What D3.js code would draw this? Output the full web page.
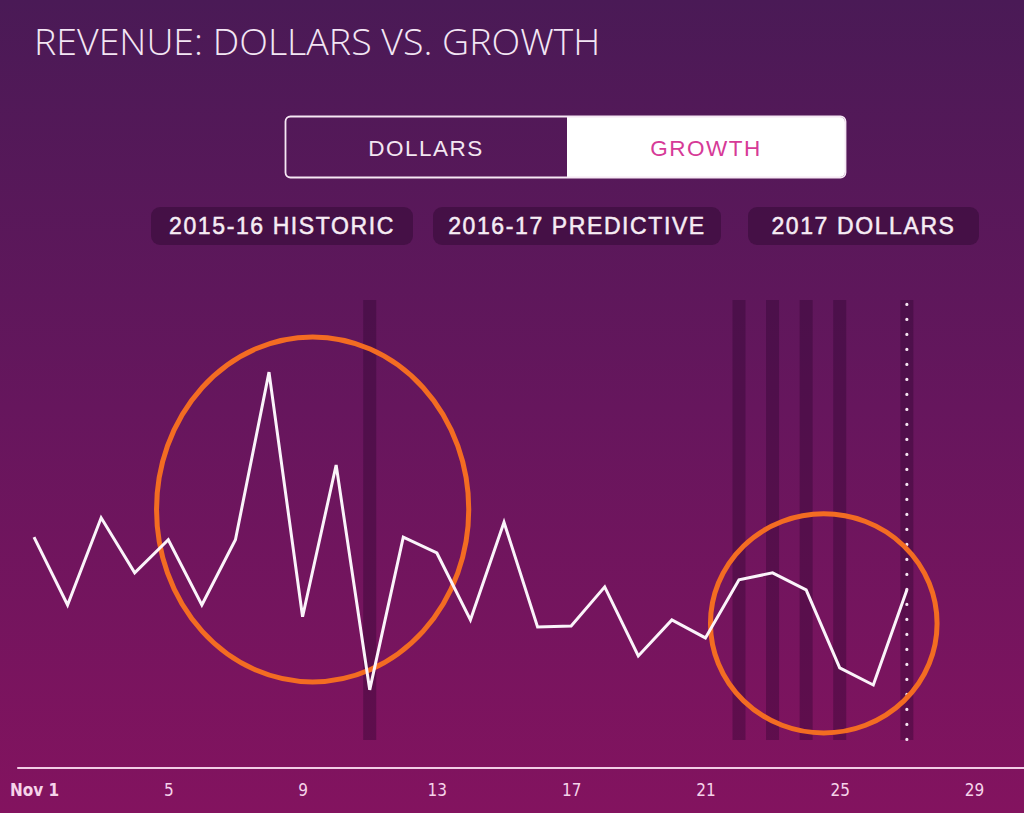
<!DOCTYPE html>
<html>
<head>
<meta charset="utf-8">
<script src="https://cdn.jsdelivr.net/npm/d3@7"></script>
<style>
  html, body { margin: 0; padding: 0; background: #4a1a56; }
  svg { display: block; }
</style>
</head>
<body>
<svg id="chart" width="1024" height="813"></svg>
<script>
// ---------- data ----------
const title = "REVENUE: DOLLARS VS. GROWTH";
const toggleLabels = ["DOLLARS", "GROWTH"];
const legendLabels = ["2015-16 HISTORIC", "2016-17 PREDICTIVE", "2017 DOLLARS"];
const days = [1,2,3,4,5,6,7,8,9,10,11,12,13,14,15,16,17,18,19,20,21,22,23,24,25,26,27];
const growth = [46.1,30.7,50.5,38.0,45.5,30.7,45.5,83.6,28.0,62.5,11.4,46.1,42.5,27.3,49.5,25.7,25.9,34.8,19.1,27.3,23.2,36.4,38.0,34.1,16.4,12.5,34.1];
const tickDays = [1,5,9,13,17,21,25,29];
const tickLabels = ["Nov 1","5","9","13","17","21","25","29"];
const highlightDays = [11,22,23,24,25];
const todayDay = 27;
// annotation ellipses, extents in data units [dayMin, dayMax, valueMin, valueMax]
const annotations = [[4.65, 13.95, 13.2, 91.6], [21.15, 27.9, 1.6, 51.4]];

// ---------- setup ----------
const W = 1024, H = 813;
const svg = d3.select("#chart");
const defs = svg.append("defs");
const grad = defs.append("linearGradient").attr("id","bg").attr("x1",0).attr("y1",0).attr("x2",0).attr("y2",1);
grad.append("stop").attr("offset","0%").attr("stop-color","#4a1a56");
grad.append("stop").attr("offset","50%").attr("stop-color","#66165d");
grad.append("stop").attr("offset","100%").attr("stop-color","#83135f");
svg.append("rect").attr("width",W).attr("height",H).attr("fill","url(#bg)");

const x = d3.scaleLinear().domain([1,29]).range([34,974]);
const y = d3.scaleLinear().domain([0,100]).range([740,300]);

// title
svg.append("text").attr("x",34).attr("y",55)
  .attr("font-family","'Open Sans', sans-serif").attr("font-weight",300)
  .attr("font-size",37.5).attr("fill","#f3e6f4").text(title);

// toggle
const tg = svg.append("g");
tg.append("path")
  .attr("d","M567,117 H840 a5,5 0 0 1 5,5 V172 a5,5 0 0 1 -5,5 H567 Z")
  .attr("fill","#ffffff");
tg.append("rect").attr("x",285.5).attr("y",116.5).attr("width",560).attr("height",61)
  .attr("rx",5).attr("fill","none").attr("stroke","#f6e8f4").attr("stroke-width",1.8);
tg.append("text").attr("x",426).attr("y",156).attr("text-anchor","middle")
  .attr("font-family","'Liberation Sans', Arial, sans-serif").attr("font-size",22.5)
  .attr("letter-spacing",1.5).attr("fill","#f3e6f1").text(toggleLabels[0]);
tg.append("text").attr("x",706).attr("y",156).attr("text-anchor","middle")
  .attr("font-family","'Liberation Sans', Arial, sans-serif").attr("font-size",22.5)
  .attr("letter-spacing",1.5).attr("fill","#d63a97").text(toggleLabels[1]);

// legend pills
const pills = [[151,413],[433,721],[748,979]];
legendLabels.forEach((lab,i)=>{
  const [a,b] = pills[i];
  svg.append("rect").attr("x",a).attr("y",207).attr("width",b-a).attr("height",38)
    .attr("rx",9).attr("fill","#3a0c3c").attr("fill-opacity",0.65);
  svg.append("text").attr("x",(a+b)/2).attr("y",234).attr("text-anchor","middle")
    .attr("font-family","'Liberation Sans', Arial, sans-serif").attr("font-size",23)
    .attr("letter-spacing",1.6).attr("fill","#f6ecf4")
    .attr("stroke","#f6ecf4").attr("stroke-width",0.5).text(lab);
});

// highlight bars
const bandW = 13;
svg.append("g").selectAll("rect").data(highlightDays.concat([todayDay])).join("rect")
  .attr("x",d=>x(d)-bandW/2).attr("y",y(100)).attr("width",bandW).attr("height",y(0)-y(100))
  .attr("fill","#2e0530").attr("fill-opacity",0.38);

// dotted today line
svg.append("line").attr("x1",x(todayDay)).attr("x2",x(todayDay))
  .attr("y1",y(99)).attr("y2",y(0))
  .attr("stroke","#f4e4f0").attr("stroke-width",3.2).attr("stroke-linecap","round")
  .attr("stroke-dasharray","0 15");

// ellipses
svg.append("g").selectAll("ellipse").data(annotations).join("ellipse")
  .attr("cx",d=>(x(d[0])+x(d[1]))/2).attr("cy",d=>(y(d[2])+y(d[3]))/2)
  .attr("rx",d=>(x(d[1])-x(d[0]))/2).attr("ry",d=>(y(d[2])-y(d[3]))/2)
  .attr("fill","none").attr("stroke","#f36c22").attr("stroke-width",5);

// line
const line = d3.line().x((d,i)=>x(days[i])).y(d=>y(d));
svg.append("path").datum(growth).attr("d",line)
  .attr("fill","none").attr("stroke","#fbf4fa").attr("stroke-width",3)
  .attr("stroke-linejoin","miter");

// axis
svg.append("line").attr("x1",x(0.5)).attr("x2",W).attr("y1",768).attr("y2",768)
  .attr("stroke","#f2cde6").attr("stroke-width",2);
const axis = d3.axisBottom(x).tickValues(tickDays).tickSize(0).tickPadding(0)
  .tickFormat((d,i)=>tickLabels[i]);
const ag = svg.append("g").attr("transform","translate(0,784)").call(axis);
ag.select(".domain").remove();
ag.selectAll("text")
  .attr("font-family","'Liberation Sans Narrow', 'DejaVu Sans Condensed', sans-serif")
  .attr("font-size",17).attr("fill","#f6d3ea")
  .attr("font-weight",(d,i)=>i===0?"bold":"normal");
</script>
</body>
</html>
